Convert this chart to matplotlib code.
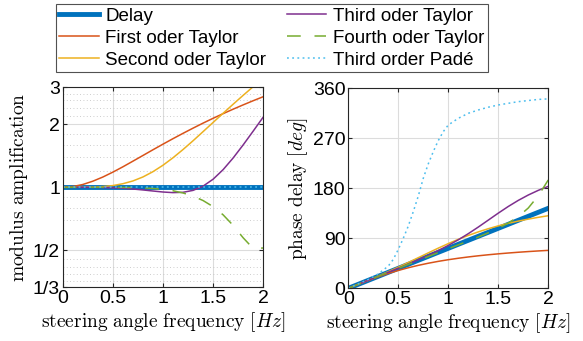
import matplotlib
matplotlib.use("Agg")
import matplotlib.pyplot as plt
from matplotlib.ticker import FixedLocator, NullFormatter

plt.rcParams['font.family'] = ['Liberation Sans', 'DejaVu Sans']
plt.rcParams['mathtext.fontset'] = 'cm'

# Frequenzen [Hz]
freq = [0.0, 0.1, 0.2, 0.3, 0.4, 0.5, 0.6, 0.7, 0.8, 0.9, 1.0,
        1.1, 1.2, 1.3, 1.4, 1.5, 1.6, 1.7, 1.8, 1.9, 2.0]
freq_pade = [0.0, 0.1, 0.2, 0.3, 0.35, 0.4, 0.45, 0.5, 0.55, 0.6, 0.65, 0.7, 0.75,
             0.8, 0.85, 0.9, 0.95, 1.0, 1.1, 1.2, 1.3, 1.4, 1.5, 1.6, 1.7, 1.8, 1.9, 2.0]

# Betrag
mod_delay = [1.0, 1.0, 1.0, 1.0, 1.0, 1.0, 1.0, 1.0, 1.0, 1.0, 1.0,
             1.0, 1.0, 1.0, 1.0, 1.0, 1.0, 1.0, 1.0, 1.0, 1.0]
mod_first = [1.0, 1.008, 1.031, 1.069, 1.119, 1.181, 1.252, 1.332, 1.418, 1.510, 1.606,
             1.706, 1.809, 1.915, 2.024, 2.134, 2.246, 2.359, 2.473, 2.589, 2.705]
mod_second = [1.0, 1.0, 1.0005, 1.0025, 1.008, 1.019, 1.040, 1.072, 1.120, 1.187, 1.274,
              1.383, 1.514, 1.667, 1.843, 2.039, 2.255, 2.491, 2.747, 3.021, 3.313]
mod_third = [1.0, 1.0, 0.9998, 0.9992, 0.9976, 0.9943, 0.989, 0.9813, 0.9714, 0.9601, 0.9495,
             0.9432, 0.9464, 0.9667, 1.0126, 1.0927, 1.2138, 1.3801, 1.5933, 1.8541, 2.1624]
mod_fourth = [1.0, 1.0, 1.0, 1.0, 0.9999, 0.9996, 0.9988, 0.9971, 0.9937, 0.9877, 0.9778,
              0.9624, 0.9397, 0.9078, 0.8646, 0.8085, 0.7389, 0.6580, 0.5741, 0.5104, 0.5133]
mod_pade = [1.0, 1.0, 1.0, 1.0, 1.0, 1.0, 1.0, 1.0, 1.0, 1.0, 1.0, 1.0, 1.0, 1.0,
            1.0, 1.0, 1.0, 1.0, 1.0, 1.0, 1.0, 1.0, 1.0, 1.0, 1.0, 1.0, 1.0, 1.0]

# Phase [deg]
ph_delay = [0.0, 7.2, 14.4, 21.6, 28.8, 36.0, 43.2, 50.4, 57.6, 64.8, 72.0,
            79.2, 86.4, 93.6, 100.8, 108.0, 115.2, 122.4, 129.6, 136.8, 144.0]
ph_first = [0.0, 7.16, 14.11, 20.66, 26.69, 32.14, 37.02, 41.34, 45.15, 48.52, 51.49,
            54.11, 56.45, 58.53, 60.39, 62.05, 63.55, 64.91, 66.15, 67.27, 68.30]
ph_second = [0.0, 7.22, 14.55, 22.09, 29.92, 38.05, 46.49, 55.12, 63.80, 72.32, 80.49,
             88.15, 95.19, 101.57, 107.29, 112.39, 116.93, 120.97, 124.56, 127.77, 130.66]
ph_third = [0.0, 7.20, 14.40, 21.62, 28.86, 36.18, 43.64, 51.33, 59.38, 67.95, 77.19,
            87.29, 98.33, 110.23, 122.74, 135.29, 147.29, 158.25, 167.93, 176.32, 183.52]
ph_fourth = [0.0, 7.20, 14.40, 21.60, 28.79, 35.96, 43.11, 50.21, 57.27, 64.28, 71.25,
             78.20, 85.21, 92.38, 99.88, 108.05, 117.42, 129.00, 144.51, 166.51, 194.98]
ph_pade = [0.0, 8.0, 16.0, 26.0, 33.0, 40.0, 52.0, 70.0, 90.0, 112.0, 138.0, 166.0, 198.0,
           224.0, 246.0, 266.0, 282.0, 294.0, 306.0, 315.0, 321.0, 326.0, 330.0, 333.0,
           336.0, 338.0, 340.0, 341.0]

labels = ["Delay", "First oder Taylor", "Second oder Taylor",
          "Third oder Taylor", "Fourth oder Taylor", "Third order Padé"]
colors = ["#0072BD", "#D95319", "#EDB120", "#7E2F8E", "#77AC30", "#4DBEEE"]

fig = plt.figure(figsize=(5.83, 3.41), dpi=100)
ax1 = fig.add_axes([0.1075, 0.1575, 0.344, 0.5865])
ax2 = fig.add_axes([0.5974, 0.1545, 0.343, 0.5865])


def draw(ax, series):
    lines = []
    for i, (x, y) in enumerate(series):
        kw = dict(color=colors[i], lw=1.1, label=labels[i])
        if i == 0:
            kw["lw"] = 3.5
        if i == 4:
            kw["dashes"] = (9, 9)
        if i == 5:
            kw["dashes"] = (1.2, 2.2)
        lines.append(ax.plot(x, y, **kw)[0])
    return lines


lines = draw(ax1, [(freq, mod_delay), (freq, mod_first), (freq, mod_second),
                   (freq, mod_third), (freq, mod_fourth), (freq_pade, mod_pade)])
draw(ax2, [(freq, ph_delay), (freq, ph_first), (freq, ph_second),
           (freq, ph_third), (freq, ph_fourth), (freq_pade, ph_pade)])

# linke Achse (log)
ax1.set_yscale("log")
ax1.set_ylim(1 / 3, 3)
ax1.set_xlim(0, 2)
ax1.yaxis.set_major_locator(FixedLocator([1 / 3, 1 / 2, 1, 2, 3]))
ax1.set_yticklabels(["1/3", "1/2", "1", "2", "3"])
ax1.yaxis.set_minor_locator(FixedLocator([1 / 2.8, 1 / 2.6, 1 / 2.4, 1 / 2.2,
                                          0.6, 0.7, 0.8, 0.9,
                                          1.2, 1.4, 1.6, 1.8,
                                          2.2, 2.4, 2.6, 2.8]))
ax1.yaxis.set_minor_formatter(NullFormatter())
ax1.grid(True, which="major", color="#dcdcdc", lw=0.8)
ax1.grid(True, which="minor", axis="y", color="#bdbdbd", lw=0.6, linestyle=(0, (1, 3)))
ax1.set_ylabel(r"$\mathrm{modulus\ amplification}$", fontsize=14, labelpad=2)

ax2.set_xlim(0, 2)
ax2.set_ylim(0, 360)
ax2.set_yticks([0, 90, 180, 270, 360])
ax2.grid(True, color="#dcdcdc", lw=0.8)
ax2.set_ylabel(r"$\mathrm{phase\ delay}\ [deg]$", fontsize=14, labelpad=2)

for ax in (ax1, ax2):
    ax.set_xticks([0, 0.5, 1, 1.5, 2])
    ax.set_xticklabels(["0", "0.5", "1", "1.5", "2"])
    ax.set_axisbelow(True)
    ax.tick_params(which="both", direction="in", top=True, right=True,
                   labelsize=14, length=3, color="#262626", pad=2)
    ax.tick_params(which="minor", length=0)
    for s in ax.spines.values():
        s.set_color("#262626")
        s.set_linewidth(0.8)
    ax.set_xlabel(r"$\mathrm{steering\ angle\ frequency}\ [Hz]$", fontsize=14, labelpad=2)

leg = fig.legend(handles=lines, labels=labels, ncol=2, loc="upper left",
                 bbox_to_anchor=(0.0955, 0.988), fontsize=13.5, frameon=True,
                 fancybox=False, edgecolor="#262626", handlelength=2.1,
                 handletextpad=0.35, labelspacing=0.25, columnspacing=1.1,
                 borderpad=0.2, borderaxespad=0.0)
leg.get_frame().set_linewidth(0.8)

plt.savefig("out.png", dpi=100)
plt.close()
